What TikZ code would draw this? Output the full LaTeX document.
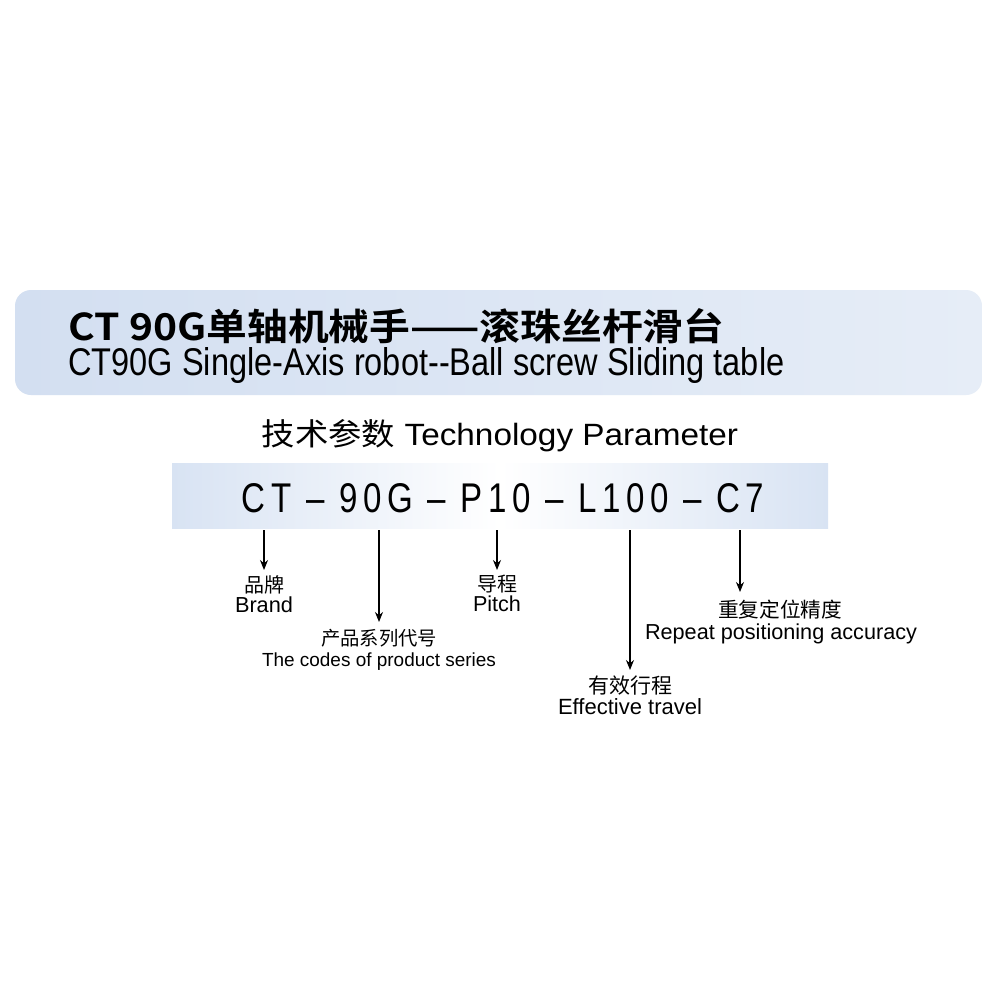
\documentclass[tikz,border=0pt]{standalone}
\usepackage{fontspec}
\setmainfont{Liberation Sans}
\newfontfamily\cjk{Noto Sans CJK SC}
\newfontfamily\cjkb{Noto Sans CJK SC Bold}
\usetikzlibrary{arrows.meta}
\definecolor{bandL}{HTML}{D3DFF1}
\definecolor{bandR}{HTML}{E6EDF7}
\definecolor{codeE}{HTML}{D8E3F3}
\newcommand{\fitw}[2]{\resizebox{#1pt}{!}{#2}}
\newcommand{\fitwh}[3]{\resizebox{#1pt}{#2pt}{#3}}
\tikzset{lab/.style={inner sep=0pt,anchor=center},
 arr/.style={-{Stealth[length=5pt,width=4pt]},line width=0.6pt}}
\begin{document}
\begin{tikzpicture}[x=0.5pt,y=-0.5pt]
\useasboundingbox (0,0) rectangle (1000,1000);
\fill[white] (0,0) rectangle (1000,1000);
\shade[left color=bandL,right color=bandR,rounded corners=8pt] (15,290) rectangle (982,395);
\node[lab,anchor=west] (t1) at (68,326) {\fitwh{328}{16}{\cjkb CT 90G单轴机械手——滚珠丝杆滑台}};
\node[lab,anchor=west] (t2) at (68,366) {\fitwh{358}{14}{CT90G Single-Axis robot-{}-Ball screw Sliding table}};
\node[lab] (tp) at (500,436) {\fitwh{238}{13}{{\cjk 技术参数} Technology Parameter}};
\shade[left color=codeE,right color=codeE,middle color=white] (172,463) rectangle (828,528);
\node[lab] (code) at (503,498) {\fitwh{261}{14.5}{C\,T \,– \,9\,0\,G \,– \,P\,1\,0 \,– \,L\,1\,0\,0 \,– \,C\,7}};
\coordinate (a1) at (264,530); \coordinate (a2) at (379,530); \coordinate (a3) at (497,530);
\coordinate (a4) at (630,530); \coordinate (a5) at (740,530);
\node[lab] (b1) at (264,585) {\fitw{20}{\cjk 品牌}};
\node[lab] (b1e) at (264,605) {\fitw{29}{Brand}};
\node[lab] (b2) at (379,638) {\fitw{58}{\cjk 产品系列代号}};
\node[lab] (b2e) at (379,662) {\fitw{117}{The codes of product series}};
\node[lab] (b3) at (497,584) {\fitw{20}{\cjk 导程}};
\node[lab] (b3e) at (497,604) {\fitw{24}{Pitch}};
\node[lab] (b4) at (630,686) {\fitw{42}{\cjk 有效行程}};
\node[lab] (b4e) at (630,707) {\fitw{72}{Effective travel}};
\node[lab] (b5) at (780,610) {\fitw{62}{\cjk 重复定位精度}};
\node[lab] (b5e) at (781,634) {\fitw{136}{Repeat positioning accuracy}};
\draw[arr] (a1) -- (264,570);
\draw[arr] (a2) -- (379,622);
\draw[arr] (a3) -- (497,570);
\draw[arr] (a4) -- (630,670);
\draw[arr] (a5) -- (740,592);
\end{tikzpicture}
\end{document}
